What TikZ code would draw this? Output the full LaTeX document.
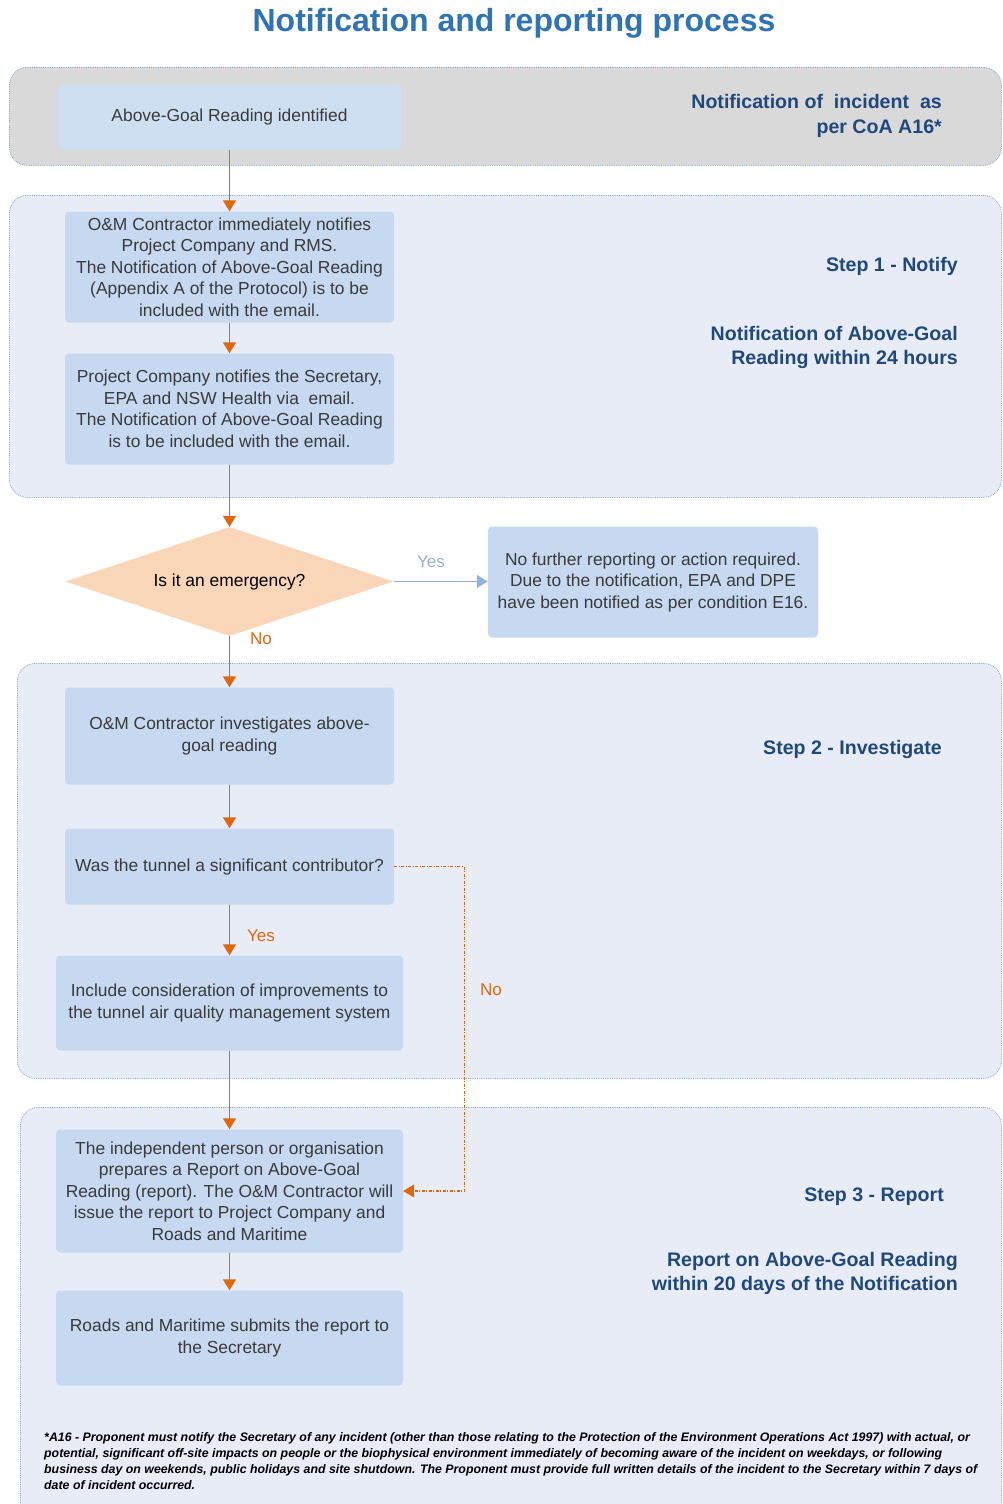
\documentclass[tikz,border=0pt]{standalone}
\usepackage{fontspec}
\setmainfont{Liberation Sans}
\usetikzlibrary{shapes.geometric,arrows.meta}
\definecolor{bandline}{HTML}{7EA6D4}
\definecolor{bandfill}{HTML}{E8ECF7}
\definecolor{grayfill}{HTML}{D9D9D9}
\definecolor{boxfill}{HTML}{C6D9F0}
\definecolor{boxtext}{HTML}{3A3A3A}
\definecolor{diafill}{HTML}{FAD6B8}
\definecolor{arrowc}{HTML}{E0670C}
\definecolor{yesblue}{HTML}{95B3D7}
\definecolor{darkblue}{HTML}{1F497D}
\definecolor{titleblue}{HTML}{2E74B5}
\begin{document}
\begin{tikzpicture}[x=1pt,y=-1pt,
  band/.style={draw=bandline, densely dotted, line width=0.8pt, rounded corners=18pt, inner sep=0, anchor=north west},
  box/.style={fill=boxfill, rounded corners=4pt, align=center, text=boxtext, inner sep=0, font=\fontsize{17.4}{21.5}\selectfont},
  dia/.style={diamond, aspect=3, fill=diafill, inner sep=0, text=black, font=\fontsize{17.4}{21.5}\selectfont},
  flow/.style={draw=arrowc, line width=1.4pt, -{Triangle[width=13pt,length=11pt]}},
  dotflow/.style={draw=arrowc, line width=1.3pt, dash pattern=on 3pt off 1.5pt on 1pt off 1.5pt, -{Triangle[width=13pt,length=11pt]}},
  yesflow/.style={draw=yesblue, line width=1.4pt, -{Triangle[width=13pt,length=11pt]}},
  olbl/.style={text=arrowc, font=\fontsize{17}{20}\selectfont, inner sep=0},
  blbl/.style={text=yesblue, font=\fontsize{17}{20}\selectfont, inner sep=0},
  side/.style={text=darkblue, font=\fontsize{19.6}{24.5}\selectfont\bfseries, align=right, anchor=east, inner sep=0}]
\clip (0,0) rectangle (1003,1504);
\fill[white] (0,0) rectangle (1003,1504);
% title
\node[text=titleblue, font=\fontsize{32}{36}\selectfont\bfseries, inner sep=0] (title) at (514,23) {Notification and reporting process};
% bands
\node[band, fill=grayfill, minimum width=992, minimum height=98] (band0) at (9,67) {};
\node[band, fill=bandfill, minimum width=992, minimum height=302] (band1) at (9,195) {};
\node[band, fill=bandfill, minimum width=984, minimum height=415] (band2) at (17,663) {};
\node[band, fill=bandfill, minimum width=981, minimum height=430] (band3) at (20,1107) {};
% boxes
\node[box, fill=boxfill!85!white, minimum width=343, minimum height=65] (A) at (229.5,117) {Above-Goal Reading identified};
\node[box, minimum width=329, minimum height=111] (B) at (229.5,267) {O\&M Contractor immediately notifies\\Project Company and RMS.\\The Notification of Above-Goal Reading\\(Appendix A of the Protocol) is to be\\included with the email.};
\node[box, minimum width=329, minimum height=111] (C) at (229.5,409) {Project Company notifies the Secretary,\\EPA and NSW Health via\ \ email.\\The Notification of Above-Goal Reading\\is to be included with the email.};
\node[dia, minimum width=328, minimum height=109] (Q) at (229.5,581.5) {Is it an emergency?};
\node[box, minimum width=330, minimum height=111] (D) at (653,582) {No further reporting or action required.\\Due to the notification, EPA and DPE\\have been notified as per condition E16.};
\node[box, minimum width=329, minimum height=97] (E) at (229.5,736) {O\&M Contractor investigates above-\\goal reading};
\node[box, minimum width=329, minimum height=76] (F) at (229.5,866.5) {Was the tunnel a significant contributor?};
\node[box, minimum width=347, minimum height=95] (G) at (229.5,1003) {Include consideration of improvements to\\the tunnel air quality management system};
\node[box, minimum width=347, minimum height=123] (H) at (229.5,1191) {The independent person or organisation\\prepares a Report on Above-Goal\\Reading (report). The O\&M Contractor will\\issue the report to Project Company and\\Roads and Maritime};
\node[box, minimum width=347, minimum height=95] (I) at (229.5,1338) {Roads and Maritime submits the report to\\the Secretary};
% connectors
\draw[flow] (A) -- (B);
\draw[flow] (B) -- (C);
\draw[flow] (C) -- (Q);
\draw[flow] (Q) -- (E);
\draw[yesflow] (Q.east) -- (D.west |- Q.east);
\draw[flow] (E) -- (F);
\draw[flow] (F) -- (G);
\draw[flow] (G) -- (H);
\draw[flow] (H) -- (I);
\draw[dotflow] (F.east) -- ++(70,0) |- (H.east);
% connector labels
\node[olbl] (lno1) at (261,639) {No};
\node[blbl] (lyes1) at (431,562) {Yes};
\node[olbl] (lyes2) at (261,936) {Yes};
\node[olbl] (lno2) at (491,990) {No};
% side labels
\node[side] (s0) at (942,116) {Notification of\ \ incident\ \ as\\per CoA A16*};
\node[side] (s1) at (958,266.5) {Step 1 - Notify};
\node[side] (s1b) at (958,347.5) {Notification of Above-Goal\\Reading within 24 hours};
\node[side] (s2) at (942,749.5) {Step 2 - Investigate};
\node[side] (s3) at (944,1196.5) {Step 3 - Report};
\node[side] (s3b) at (958,1273.5) {Report on Above-Goal Reading\\within 20 days of the Notification};
% footnote
\node[anchor=north west, inner sep=0, align=left, text=black, font=\fontsize{12.35}{16}\selectfont\bfseries\itshape] (foot) at (44,1432) {*A16 - Proponent must notify the Secretary of any incident (other than those relating to the Protection of the Environment Operations Act 1997) with actual, or\\potential, significant off-site impacts on people or the biophysical environment immediately of becoming aware of the incident on weekdays, or following\\business day on weekends, public holidays and site shutdown. The Proponent must provide full written details of the incident to the Secretary within 7 days of\\date of incident occurred.};
\end{tikzpicture}
\end{document}
